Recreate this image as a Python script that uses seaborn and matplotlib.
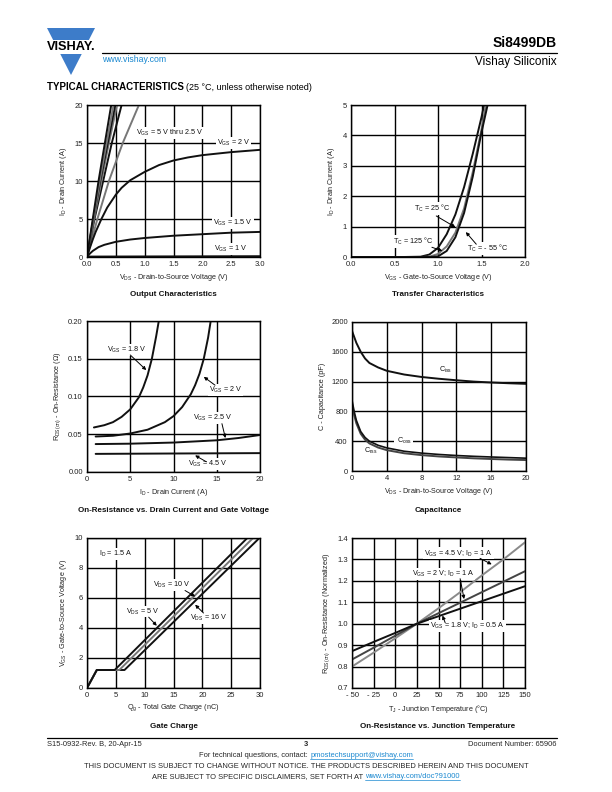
import numpy as np
import pandas as pd
import matplotlib
matplotlib.use("Agg")
import matplotlib.pyplot as plt
import seaborn as sns
from matplotlib.lines import Line2D
from matplotlib.patches import Polygon, Rectangle

# ---------------- data ----------------
# Output characteristics (ID vs VDS)
out_id_steep = [0, 5, 10, 15, 20]
out_vds_5v = [0, 0.10, 0.20, 0.31, 0.42]
out_vds_4v5 = [0, 0.11, 0.22, 0.34, 0.46]
out_vds_4v = [0, 0.11, 0.23, 0.36, 0.49]
out_vds_3v5 = [0, 0.12, 0.25, 0.38, 0.52]
out_vds_3v = [0, 0.13, 0.28, 0.43, 0.60]
out_vds_2v5 = [0, 0.18, 0.38, 0.62, 0.90]
out_vds_2v = [0, 0.05, 0.1, 0.15, 0.25, 0.35, 0.5, 0.6, 0.75, 1.0, 1.25, 1.5, 1.75, 2.0, 2.5, 3.0]
out_id_2v = [0, 1.2, 2.3, 3.3, 5.0, 6.5, 8.2, 9.1, 10.1, 11.2, 12.1, 12.7, 13.1, 13.4, 13.8, 14.1]
out_vds_1v5 = [0, 0.05, 0.1, 0.2, 0.3, 0.5, 0.75, 1.0, 1.5, 2.0, 2.5, 3.0]
out_id_1v5 = [0, 0.45, 0.8, 1.3, 1.6, 2.0, 2.3, 2.5, 2.8, 3.0, 3.2, 3.3]
out_vds_1v = [0, 3.0]
out_id_1v = [0, 0.05]

# Transfer characteristics (ID vs VGS)
tr_vgs_125 = [0, 0.6, 0.8, 0.9, 1.0, 1.1, 1.2, 1.3, 1.4, 1.5, 1.53]
tr_id_125 = [0, 0, 0.01, 0.08, 0.3, 0.75, 1.4, 2.3, 3.4, 4.6, 5.0]
tr_vgs_25 = [0, 0.8, 0.9, 1.0, 1.1, 1.2, 1.3, 1.4, 1.5, 1.55]
tr_id_25 = [0, 0, 0.01, 0.1, 0.35, 0.8, 1.6, 2.8, 4.2, 5.0]
tr_vgs_m55 = [0, 0.9, 1.0, 1.1, 1.2, 1.3, 1.4, 1.5, 1.57]
tr_id_m55 = [0, 0, 0.02, 0.2, 0.65, 1.45, 2.65, 4.1, 5.0]

# On-resistance vs drain current
rd_id_1v8 = [0.8, 2, 3, 4, 5, 6, 6.5, 7, 7.5, 8, 8.3]
rd_r_1v8 = [0.059, 0.062, 0.066, 0.073, 0.083, 0.099, 0.112, 0.128, 0.150, 0.180, 0.200]
rd_id_2v = [1, 3, 5, 7, 9, 10, 11, 12, 12.5, 13, 13.5, 14, 14.3]
rd_r_2v = [0.047, 0.048, 0.051, 0.056, 0.066, 0.074, 0.086, 0.103, 0.115, 0.130, 0.150, 0.178, 0.200]
rd_id_2v5 = [1, 5, 10, 15, 17.5, 20]
rd_r_2v5 = [0.037, 0.0375, 0.039, 0.042, 0.045, 0.049]
rd_id_4v5 = [1, 10, 20]
rd_r_4v5 = [0.024, 0.0245, 0.025]

# Capacitance
cap_vds = [0, 0.25, 0.5, 1, 1.5, 2, 3, 4, 6, 8, 10, 12, 14, 16, 18, 20]
cap_ciss = [1880, 1800, 1720, 1600, 1510, 1450, 1390, 1345, 1295, 1262, 1238, 1218, 1200, 1188, 1178, 1170]
cap_coss = [950, 800, 680, 530, 450, 400, 345, 310, 265, 240, 222, 208, 197, 188, 180, 172]
cap_crss = [900, 750, 640, 500, 420, 370, 315, 280, 238, 213, 195, 182, 170, 161, 153, 147]

# Gate charge
gc_qg_5v = [0, 1.7, 4.8, 27.8]
gc_qg_10v = [0, 1.7, 5.6, 28.8]
gc_qg_16v = [0, 1.7, 6.5, 29.9]
gc_vgs = [0, 1.2, 1.2, 10]

# On-resistance vs junction temperature
tj = [-50, -25, 0, 25, 50, 75, 100, 125, 150]
rt_4v5 = [0.80, 0.865, 0.932, 1.0, 1.072, 1.147, 1.225, 1.30, 1.38]
rt_2v = [0.833, 0.888, 0.944, 1.0, 1.049, 1.098, 1.147, 1.196, 1.245]
rt_1v8 = [0.872, 0.915, 0.957, 1.0, 1.035, 1.07, 1.105, 1.14, 1.175]

# ---------------- style ----------------
sns.set_theme(style="white")
plt.rcParams['font.family'] = ['Liberation Sans', 'DejaVu Sans']
plt.rcParams['mathtext.fontset'] = 'custom'
plt.rcParams['mathtext.rm'] = 'Liberation Sans'

W, H = 612, 792
fig = plt.figure(figsize=(W / 100, H / 100), dpi=100)
fig.patch.set_facecolor('white')

BLK = '#111111'
GRY = '#777777'
DGR = '#444444'
BLUE = '#1a88d0'
TICK_FS = 5.5
LAB_FS = 5.2


def box(l, t, r, b):
    return [l / W, 1 - b / H, (r - l) / W, (b - t) / H]


def ftext(x, y, s, **kw):
    return fig.text(x / W, 1 - y / H, s, **kw)


def setup(ax, xlim, ylim, xticks, yticks, xl=None, yl=None, xlabel='', ylabel=''):
    ax.set_xlim(*xlim)
    ax.set_ylim(*ylim)
    ax.set_xticks(xticks)
    ax.set_yticks(yticks)
    if xl is not None:
        ax.set_xticklabels(xl)
    if yl is not None:
        ax.set_yticklabels(yl)
    ax.grid(True, color='black', lw=1.0)
    ax.set_axisbelow(True)
    for s in ax.spines.values():
        s.set_color('black')
        s.set_linewidth(1.0)
        s.set_visible(True)
    ax.tick_params(length=0, labelsize=TICK_FS, pad=3, colors='#222222')
    ax.set_xlabel(xlabel, fontsize=LAB_FS, labelpad=2.5, color='#222222')
    ax.set_ylabel(ylabel, fontsize=LAB_FS, labelpad=4, color='#222222')
    ax.set_facecolor('white')


def line(ax, x, y, color=BLK, lw=1.4):
    sns.lineplot(x=x, y=y, ax=ax, color=color, lw=lw, sort=False, estimator=None)


def note(ax, x, y, s, ha='left', bg=True):
    kw = dict(fontsize=LAB_FS, ha=ha, va='center', color='#111111')
    if bg:
        kw['bbox'] = dict(fc='white', ec='none', pad=0.6)
    ax.text(x, y, s, **kw)


def arrow(ax, xy_from, xy_to):
    ax.annotate('', xy=xy_to, xytext=xy_from,
                arrowprops=dict(arrowstyle='-|>', color='black', lw=0.7,
                                mutation_scale=5, shrinkA=0, shrinkB=0))


VGS = 'V$_\\mathregular{GS}$'
VDS = 'V$_\\mathregular{DS}$'
ID = 'I$_\\mathregular{D}$'
TC = 'T$_\\mathregular{C}$'

# ---------- 1: Output characteristics ----------
ax1 = fig.add_axes(box(87, 105, 260, 257))
setup(ax1, (0, 3), (0, 20), [0, 0.5, 1, 1.5, 2, 2.5, 3], [0, 5, 10, 15, 20],
      xl=['0.0', '0.5', '1.0', '1.5', '2.0', '2.5', '3.0'],
      xlabel=VDS + ' - Drain-to-Source Voltage (V)', ylabel=ID + ' - Drain Current (A)')
for xs, c in [(out_vds_2v5, GRY), (out_vds_3v, BLK), (out_vds_3v5, GRY),
              (out_vds_4v, BLK), (out_vds_4v5, GRY), (out_vds_5v, BLK)]:
    line(ax1, xs, out_id_steep, c)
line(ax1, out_vds_2v, out_id_2v)
line(ax1, out_vds_1v5, out_id_1v5)
line(ax1, out_vds_1v, out_id_1v, lw=2.0)
note(ax1, 0.85, 16.3, VGS + ' = 5 V thru 2.5 V')
note(ax1, 2.25, 15.0, VGS + ' = 2 V')
note(ax1, 2.19, 4.5, VGS + ' = 1.5 V')
note(ax1, 2.2, 1.1, VGS + ' = 1 V')

# ---------- 2: Transfer characteristics ----------
ax2 = fig.add_axes(box(351, 105, 525, 257))
setup(ax2, (0, 2), (0, 5), [0, 0.5, 1, 1.5, 2], [0, 1, 2, 3, 4, 5],
      xl=['0.0', '0.5', '1.0', '1.5', '2.0'],
      xlabel=VGS + ' - Gate-to-Source Voltage (V)', ylabel=ID + ' - Drain Current (A)')
line(ax2, tr_vgs_125, tr_id_125, BLK)
line(ax2, tr_vgs_25, tr_id_25, GRY)
line(ax2, tr_vgs_m55, tr_id_m55, BLK)
note(ax2, 0.72, 1.6, TC + ' = 25 °C')
arrow(ax2, (0.98, 1.35), (1.2, 0.98))
note(ax2, 0.48, 0.52, TC + ' = 125 °C')
arrow(ax2, (0.93, 0.32), (1.05, 0.2))
note(ax2, 1.33, 0.27, TC + ' = - 55 °C')
arrow(ax2, (1.44, 0.42), (1.32, 0.82))

# ---------- 3: On-resistance vs drain current ----------
ax3 = fig.add_axes(box(87, 321, 260, 472))
setup(ax3, (0, 20), (0, 0.2), [0, 5, 10, 15, 20], [0, 0.05, 0.10, 0.15, 0.20],
      yl=['0.00', '0.05', '0.10', '0.15', '0.20'],
      xlabel=ID + ' - Drain Current (A)',
      ylabel='R$_\\mathregular{DS(on)}$ - On-Resistance (Ω)')
line(ax3, rd_id_1v8, rd_r_1v8)
line(ax3, rd_id_2v, rd_r_2v)
line(ax3, rd_id_2v5, rd_r_2v5)
line(ax3, rd_id_4v5, rd_r_4v5)
note(ax3, 2.3, 0.162, VGS + ' = 1.8 V')
arrow(ax3, (5.0, 0.155), (6.85, 0.135))
note(ax3, 14.1, 0.109, VGS + ' = 2 V')
arrow(ax3, (14.8, 0.115), (13.5, 0.126))
note(ax3, 12.3, 0.072, VGS + ' = 2.5 V')
arrow(ax3, (15.6, 0.064), (16.0, 0.045))
note(ax3, 11.7, 0.011, VGS + ' = 4.5 V')
arrow(ax3, (13.8, 0.0135), (12.5, 0.022))

# ---------- 4: Capacitance ----------
ax4 = fig.add_axes(box(352, 322, 526, 471))
setup(ax4, (0, 20), (0, 2000), [0, 4, 8, 12, 16, 20], [0, 400, 800, 1200, 1600, 2000],
      xlabel=VDS + ' - Drain-to-Source Voltage (V)', ylabel='C - Capacitance (pF)')
line(ax4, cap_vds, cap_ciss)
line(ax4, cap_vds, cap_crss, DGR)
line(ax4, cap_vds, cap_coss, BLK, lw=1.2)
note(ax4, 10.0, 1360, 'C$_\\mathregular{iss}$')
note(ax4, 4.9, 400, ' C$_\\mathregular{oss}$ ')
note(ax4, 1.4, 270, 'C$_\\mathregular{rss}$', bg=False)

# ---------- 5: Gate charge ----------
ax5 = fig.add_axes(box(87, 538, 260, 688))
setup(ax5, (0, 30), (0, 10), [0, 5, 10, 15, 20, 25, 30], [0, 2, 4, 6, 8, 10],
      xlabel='Q$_\\mathregular{g}$ - Total Gate Charge (nC)',
      ylabel=VGS + ' - Gate-to-Source Voltage (V)')
line(ax5, gc_qg_16v, gc_vgs, BLK)
line(ax5, gc_qg_10v, gc_vgs, GRY)
line(ax5, gc_qg_5v, gc_vgs, BLK)
note(ax5, 2.0, 8.96, ID + ' = 1.5 A')
note(ax5, 11.4, 6.86, VDS + ' = 10 V')
arrow(ax5, (17.0, 6.5), (18.75, 6.1))
note(ax5, 6.8, 5.1, VDS + ' = 5 V')
arrow(ax5, (10.7, 4.72), (12.1, 4.15))
note(ax5, 17.9, 4.65, VDS + ' = 16 V')
arrow(ax5, (20.2, 5.0), (18.75, 5.55))

# ---------- 6: On-resistance vs junction temperature ----------
ax6 = fig.add_axes(box(352, 538, 525, 688))
setup(ax6, (-50, 150), (0.7, 1.4), tj, [0.7, 0.8, 0.9, 1.0, 1.1, 1.2, 1.3, 1.4],
      xl=['- 50', '- 25', '0', '25', '50', '75', '100', '125', '150'],
      yl=['0.7', '0.8', '0.9', '1.0', '1.1', '1.2', '1.3', '1.4'],
      xlabel='T$_\\mathregular{J}$ - Junction Temperature (°C)',
      ylabel='R$_\\mathregular{DS(on)}$ - On-Resistance (Normalized)')
line(ax6, tj, rt_4v5, '#8a8a8a')
line(ax6, tj, rt_2v, DGR)
line(ax6, tj, rt_1v8, BLK)
note(ax6, 33.5, 1.328, VGS + ' = 4.5 V; ' + ID + ' = 1 A')
arrow(ax6, (98, 1.305), (111.5, 1.277))
note(ax6, 19, 1.231, VGS + ' = 2 V; ' + ID + ' = 1 A')
arrow(ax6, (75, 1.21), (79.6, 1.115))
note(ax6, 40.4, 0.989, VGS + ' = 1.8 V; ' + ID + ' = 0.5 A')
arrow(ax6, (57.7, 1.005), (54.6, 1.038))

# ---------- captions ----------
for cx, cy, s in [(173.5, 294, 'Output Characteristics'),
                  (438, 294, 'Transfer Characteristics'),
                  (173.5, 510, 'On-Resistance vs. Drain Current and Gate Voltage'),
                  (438, 510, 'Capacitance'),
                  (173.5, 726, 'Gate Charge'),
                  (438, 726, 'On-Resistance vs. Junction Temperature')]:
    ftext(cx, cy, s, ha='center', va='center', fontsize=5.8, fontweight='bold', color='#111111')

# ---------- header ----------
tri = Polygon([(47 / W, 1 - 28 / H), (95 / W, 1 - 28 / H), (71 / W, 1 - 75 / H)],
              closed=True, transform=fig.transFigure, fc='#3d7cc9', ec='none')
fig.patches.append(tri)
fig.patches.append(Rectangle((44 / W, 1 - 54 / H), 54 / W, 14 / H, transform=fig.transFigure,
                             fc='white', ec='none'))
ftext(71, 47.5, 'VISHAY.', ha='center', va='center', fontsize=9.2, fontweight='bold', color='black')
fig.lines.append(Line2D([102 / W, 557 / W], [1 - 53 / H, 1 - 53 / H], transform=fig.transFigure,
                        color='black', lw=0.9))
ftext(102, 59, 'www.vishay.com', ha='left', va='center', fontsize=6.3, color=BLUE)
ftext(557, 43, 'Si8499DB', ha='right', va='center', fontsize=10, fontweight='bold', color='black')
ftext(557, 62, 'Vishay Siliconix', ha='right', va='center', fontsize=8.5, color='black')

renderer = fig.canvas.get_renderer()
t1 = ftext(47, 87.5, 'TYPICAL CHARACTERISTICS', ha='left', va='center', fontsize=7,
           fontweight='heavy', color='black')
bb = t1.get_window_extent(renderer)
ftext(bb.x1 + 2.5, 87.5, '(25 °C, unless otherwise noted)', ha='left', va='center',
      fontsize=6.5, color='black')

# ---------- footer ----------
fig.lines.append(Line2D([47 / W, 557 / W], [1 - 738 / H, 1 - 738 / H], transform=fig.transFigure,
                        color='black', lw=0.9))
FFS = 5.4
ftext(47, 744, 'S15-0932-Rev. B, 20-Apr-15', ha='left', va='center', fontsize=FFS)
ftext(306, 745, '3', ha='center', va='center', fontsize=FFS, fontweight='bold')
ftext(557, 744, 'Document Number: 65906', ha='right', va='center', fontsize=FFS)


def mixed(y, plain, link):
    ta = fig.text(0, 0, plain, fontsize=FFS)
    tb = fig.text(0, 0, link, fontsize=FFS)
    wa = ta.get_window_extent(renderer).width
    wb = tb.get_window_extent(renderer).width
    ta.remove(); tb.remove()
    x0 = 306 - (wa + wb) / 2
    ftext(x0, y, plain, ha='left', va='center', fontsize=FFS)
    tl = ftext(x0 + wa, y, link, ha='left', va='center', fontsize=FFS, color=BLUE)
    b = tl.get_window_extent(renderer)
    fig.lines.append(Line2D([b.x0 / W, b.x1 / W], [(b.y0 - 0.3) / H, (b.y0 - 0.3) / H],
                            transform=fig.transFigure, color=BLUE, lw=0.5))


mixed(755.5, 'For technical questions, contact: ', 'pmostechsupport@vishay.com')
ftext(306, 767, 'THIS DOCUMENT IS SUBJECT TO CHANGE WITHOUT NOTICE. THE PRODUCTS DESCRIBED HEREIN AND THIS DOCUMENT',
      ha='center', va='center', fontsize=FFS)
mixed(776.5, 'ARE SUBJECT TO SPECIFIC DISCLAIMERS, SET FORTH AT ', 'www.vishay.com/doc?91000')

fig.savefig('out.png', dpi=100, facecolor='white')
